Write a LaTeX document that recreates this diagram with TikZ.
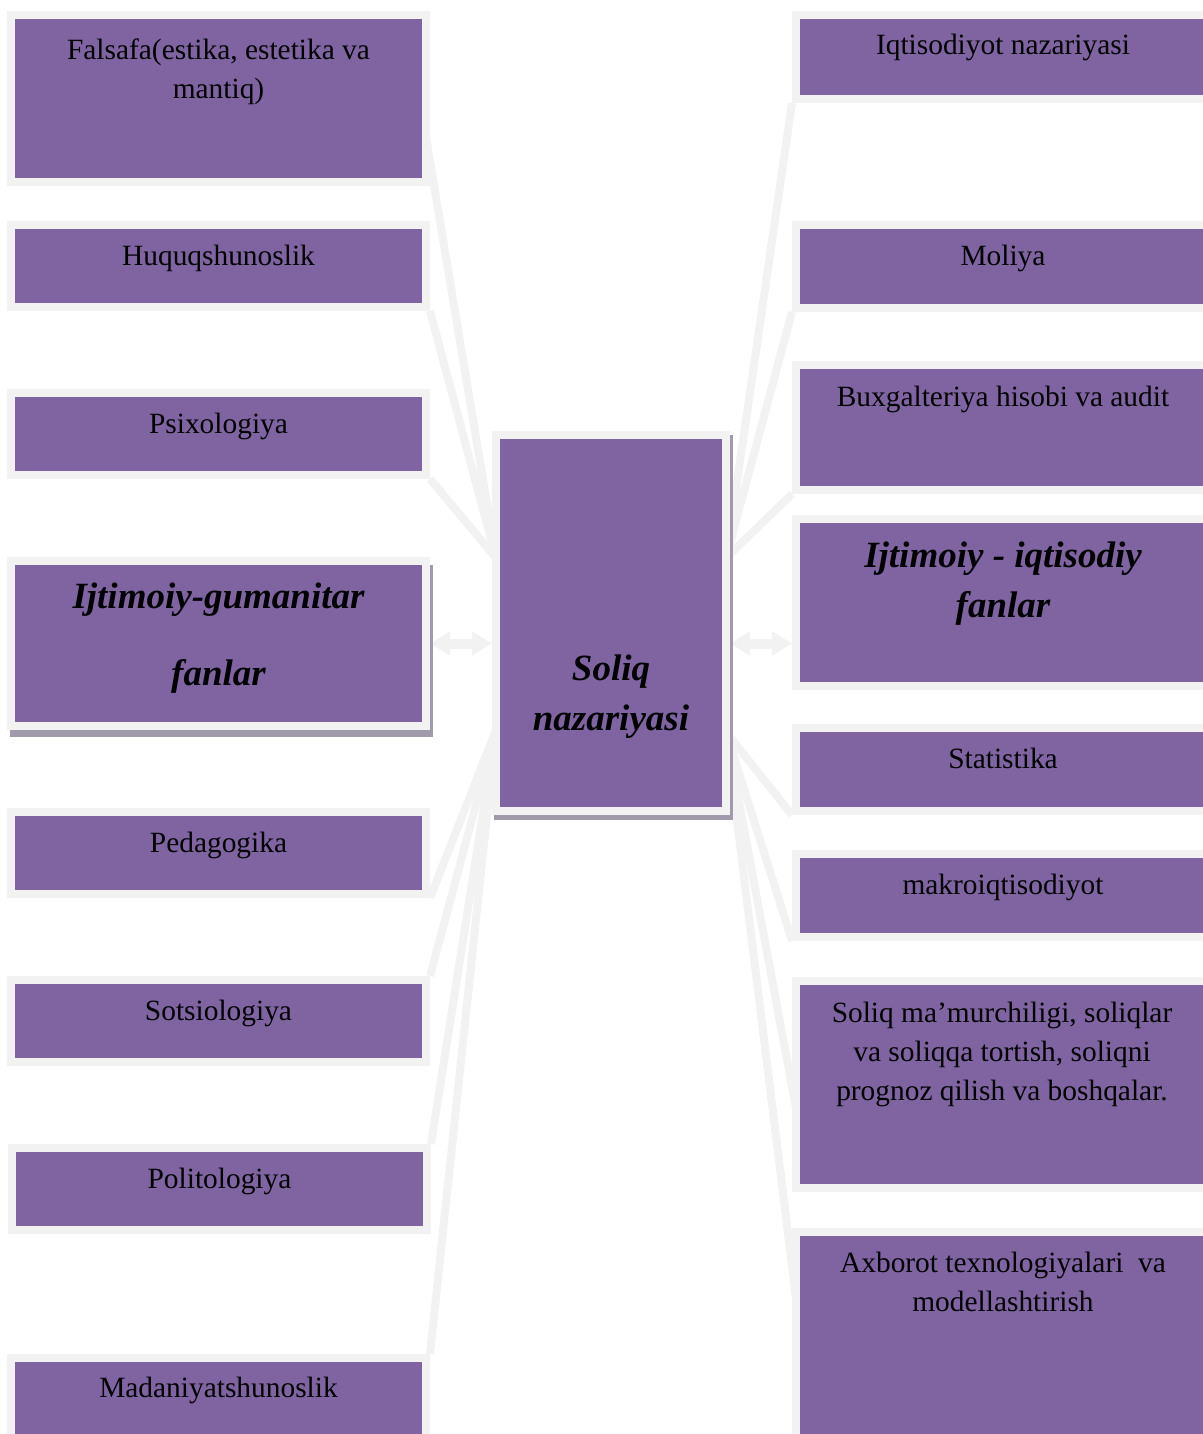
\documentclass[tikz,border=0pt]{standalone}
\usepackage{fontspec}
\setmainfont{Liberation Serif}
\usetikzlibrary{calc,arrows.meta}
\definecolor{boxfill}{RGB}{128,100,162}
\definecolor{rim}{RGB}{242,242,242}
\definecolor{shade}{RGB}{161,154,173}
\pgfdeclarelayer{back}
\pgfsetlayers{back,main}
\begin{document}
\begin{tikzpicture}[x=0.5pt,y=-0.5pt,
  panel/.style 2 args={draw=rim, fill=boxfill, line width=4pt, inner sep=0pt,
    minimum width=#1, minimum height=#2},
  txt/.style={anchor=base, align=center, inner sep=0pt, text=black,
    font=\fontsize{14.7}{19.5}\selectfont},
  ttl/.style={anchor=base, align=center, inner sep=0pt, text=black,
    font=\fontsize{18.5}{25}\selectfont\bfseries\itshape},
  link/.style={draw=rim, line width=4pt},
  twoway/.style={draw=rim, line width=5pt,
    {Triangle[length=10pt,width=11.5pt]}-{Triangle[length=10pt,width=11.5pt]}},
  backshadow/.style={fill=shade}]
\useasboundingbox (0,0) rectangle (1203,1434);
\clip (0,0) rectangle (1203,1434);

% left column
\node[panel={207.5pt}{83.5pt}] (fal) at (218.5,98.5) {};
\node[panel={207.5pt}{41pt}]   (huq) at (218.5,266) {};
\node[panel={207.5pt}{41pt}]   (psi) at (218.5,434) {};
\node[panel={207.5pt}{82.5pt}] (gum) at (218.5,643.5) {};
\node[panel={207.5pt}{41pt}]   (ped) at (218.5,853) {};
\node[panel={207.5pt}{41pt}]   (sot) at (218.5,1021) {};
\node[panel={207.5pt}{41pt}]   (pol) at (219.5,1189) {};
\node[panel={207.5pt}{53pt}]   (mad) at (218.5,1411) {};

% centre
\node[panel={115pt}{188pt}] (c) at (611,623) {};

% right column
\node[panel={207pt}{42pt}]    (iqt) at (1003,57) {};
\node[panel={207pt}{41.5pt}]  (mol) at (1003,266.5) {};
\node[panel={207pt}{62.5pt}]  (bux) at (1003,427.5) {};
\node[panel={207pt}{83.5pt}]  (ijq) at (1003,602.5) {};
\node[panel={207pt}{41.5pt}]  (sta) at (1003,769.5) {};
\node[panel={207pt}{41.5pt}]  (mak) at (1003,895.5) {};
\node[panel={207pt}{103.5pt}] (sm)  at (1003,1084.5) {};
\node[panel={207pt}{116pt}]   (axb) at (1003,1348) {};

% texts (base = baseline of the last line)
\node[txt] (tfal) at (218.5,98) {Falsafa(estika, estetika va\\mantiq)};
\node[txt] (thuq) at (218.5,265) {Huquqshunoslik};
\node[txt] (tpsi) at (218.5,433) {Psixologiya};
\node[ttl, font=\fontsize{18.5}{38.5}\selectfont\bfseries\itshape] (tgum) at (218.5,685) {Ijtimoiy-gumanitar\\fanlar};
\node[txt] (tped) at (218.5,852) {Pedagogika};
\node[txt] (tsot) at (218.5,1020) {Sotsiologiya};
\node[txt] (tpol) at (219.5,1188) {Politologiya};
\node[txt] (tmad) at (218.5,1397) {Madaniyatshunoslik};

\node[ttl] (tc) at (611,730) {Soliq\\nazariyasi};

\node[txt] (tiqt) at (1003,55) {Iqtisodiyot nazariyasi};
\node[txt] (tmol) at (1003,265) {Moliya};
\node[txt] (tbux) at (1003,406) {Buxgalteriya hisobi va audit};
\node[ttl] (tijq) at (1003,617) {Ijtimoiy - iqtisodiy\\fanlar};
\node[txt] (tsta) at (1003,768) {Statistika};
\node[txt] (tmak) at (1003,894) {makroiqtisodiyot};
\node[txt] (tsm) at (1002,1100) {Soliq ma’murchiligi, soliqlar\\va soliqqa tortish, soliqni\\prognoz qilish va boshqalar.};
\node[txt] (taxb) at (1003,1311) {Axborot texnologiyalari\ \ va\\modellashtirish};

% meeting points on the centre box and on the side boxes
\coordinate (cUL) at ($(c.north west)+(4,127)$);
\coordinate (cLL) at ($(c.north west)+(4,299)$);
\coordinate (cUR) at ($(c.north east)+(-4,127)$);
\coordinate (cLR) at ($(c.north east)+(-4,301)$);
\coordinate (falR) at ($(fal.north east)+(-4,126)$);
\coordinate (smL)  at ($(sm.north west)+(4,131)$);
\coordinate (axbL) at ($(axb.north west)+(4,70)$);

\begin{pgfonlayer}{back}
  % connectors
  \draw[link] (falR) -- (cUL);
  \draw[link] (huq.south east) -- (cUL);
  \draw[link] (psi.south east) -- (cUL);
  \draw[link] (ped.south east) -- (cLL);
  \draw[link] (sot.north east) -- (cLL);
  \draw[link] (pol.north east) -- (cLL);
  \draw[link] (mad.north east) -- (cLL);
  \draw[link] (iqt.south west) -- (cUR);
  \draw[link] (mol.south west) -- (cUR);
  \draw[link] (bux.south west) -- (cUR);
  \draw[link] (sta.south west) -- (cLR);
  \draw[link] (mak.south west) -- (cLR);
  \draw[link] (smL) -- (cLR);
  \draw[link] (axbL) -- (cLR);
  % two-way arrows
  \draw[twoway] (gum.east) -- (gum.east -| c.west);
  \draw[twoway] (gum.east -| c.east) -- (gum.east -| ijq.west);
  % drop shadows
  \fill[backshadow] ($(gum.north west)+(3,8)$) rectangle ($(gum.south east)+(3,7)$);
  \fill[backshadow] ($(c.north west)+(2,4)$) rectangle ($(c.south east)+(3,5)$);
\end{pgfonlayer}
\end{tikzpicture}
\end{document}
